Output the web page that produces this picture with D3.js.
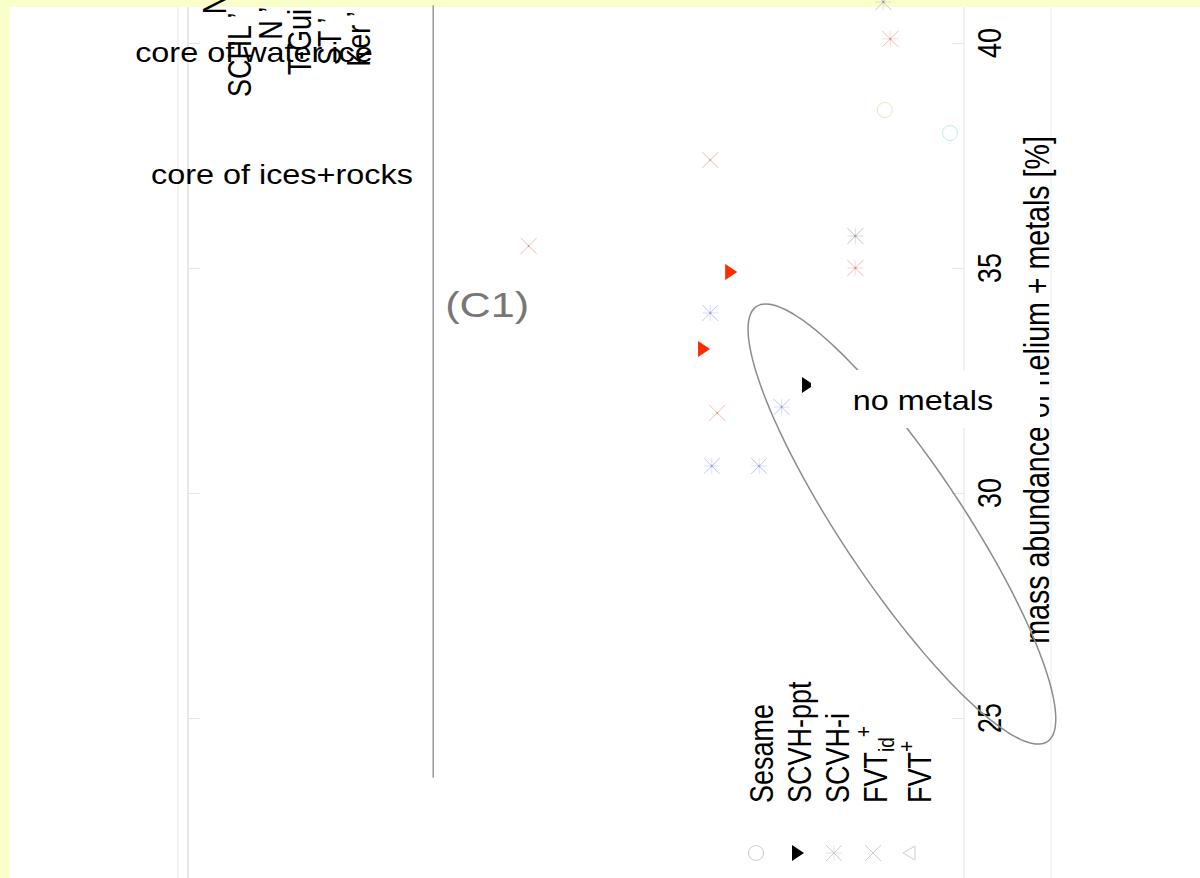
<!DOCTYPE html>
<html>
<head>
<meta charset="utf-8">
<script src="https://cdn.jsdelivr.net/npm/d3@7"></script>
<style>
  html, body { margin: 0; padding: 0; background: #FAFFCA; }
  svg { display: block; }
  text { font-family: "Liberation Sans", Arial, sans-serif; }
</style>
</head>
<body>
<svg id="chart" width="1200" height="878"></svg>
<script>
// ---- data -------------------------------------------------------------
// vertical value axis: mass abundance of helium + metals [%]
const zTicks = [25, 30, 35, 40];

// horizontal quantity: core mass (grows toward the left)
// SCVH-ppt models (filled triangles)
const ppt_core  = [3.00, 3.35, 2.01];
const ppt_z     = [34.91, 33.20, 32.40];
const ppt_group = ["g1", "g1", "g0"];

// SCVH-i models (asterisks)
const scvhi_core  = [1.40, 1.40, 0.95, 3.27, 2.35, 3.25, 2.64, 1.04];
const scvhi_z     = [35.71, 35.00, 40.09, 34.00, 31.91, 30.60, 30.60, 40.91];
const scvhi_group = ["g2", "g3", "g3", "g4", "g4", "g4", "g4", "g2"];

// FVT_id+ models (crosses)
const fvtid_core  = [3.27, 5.61, 3.18];
const fvtid_z     = [37.40, 35.49, 31.78];
const fvtid_group = ["g3", "g3", "g3"];

// Sesame models (open circles)
const sesame_core  = [1.02, 0.18];
const sesame_z     = [38.51, 38.00];
const sesame_group = ["g5", "g6"];

// legend entries
const legendNames   = ["Sesame", "SCVH-ppt", "SCVH-i", "FVT", "FVT"];
const legendSub     = ["", "", "", "id", ""];
const legendSup     = ["", "", "", "+", "+"];
const legendSymbols = ["circle", "triR", "asterisk", "cross", "triL"];

// constraint region (ellipse) in data units: centre, half-axis vectors
const ellipseCentre = [0.80, 29.31];
const ellipseMajor  = [-1.875, -4.833];
const ellipseMinor  = [0.644, -0.744];

// vertical limit line (C1)
const c1Core = 6.84;
const c1Z    = [23.67, 40.84];

// annotations
const annoText = ["core of water ice", "core of ices+rocks"];
const annoCore = [9.15, 8.79];
const annoZ    = [39.58, 36.87];

// EOS labels along the top
const eosLabels = ["N", "SCHL \u2019", "N \u2019", "T-Gui", "ST \u2019", "Ker \u2019"];
const eosCore   = [9.51, 9.19, 8.79, 8.41, 8.03, 7.65];
const eosZStart = [40.64, 38.80, 40.07, 39.29, 39.51, 39.47];

// ---- drawing ----------------------------------------------------------
const svg = d3.select("#chart");
const W = 1200, H = 878;
const plotL = 10, plotT = 7;

const x = d3.scaleLinear().domain([0, 10]).range([964, 188]);
const y = d3.scaleLinear().domain([25, 40]).range([718, 43]);

const color = d3.scaleOrdinal()
  .domain(["g0", "g1", "g2", "g3", "g4", "g5", "g6"])
  .range(["#000000", "#ff2a00", "#c4c4c4", "#f2bcba", "#c0c6f2", "#e6e6c4", "#c4ecec"]);
const centreColor = d3.scaleOrdinal()
  .domain(["g2", "g3", "g4"])
  .range(["#a0a0a0", "#e8908a", "#98a4ec"]);

const SX = 1.2; // horizontal text stretch

svg.append("rect").attr("x", plotL).attr("y", plotT)
  .attr("width", W - plotL).attr("height", H - plotT).attr("fill", "#ffffff");

const g = svg.append("g");

// frame lines
g.append("line").attr("x1", 178).attr("x2", 178).attr("y1", plotT).attr("y2", H)
  .attr("stroke", "#e4e4e4").attr("stroke-width", 1);
g.append("line").attr("x1", x.range()[1]).attr("x2", x.range()[1]).attr("y1", plotT).attr("y2", H)
  .attr("stroke", "#d2d2d2").attr("stroke-width", 1);
g.append("line").attr("x1", x.range()[0]).attr("x2", x.range()[0]).attr("y1", plotT).attr("y2", H)
  .attr("stroke", "#e2e2e2").attr("stroke-width", 1);
g.append("line").attr("x1", 1051).attr("x2", 1051).attr("y1", plotT).attr("y2", H)
  .attr("stroke", "#ececec").attr("stroke-width", 1);

// ticks on both vertical axes
const leftAxis = d3.axisRight(y).tickValues(zTicks).tickSize(12).tickFormat("");
const la = g.append("g").attr("transform", `translate(${x.range()[1]},0)`).call(leftAxis);
la.select(".domain").remove();
la.selectAll(".tick line").attr("stroke", "#e6e6e6");

const rightAxis = d3.axisLeft(y).tickValues(zTicks).tickSize(12).tickFormat("");
const ra = g.append("g").attr("transform", `translate(${x.range()[0]},0)`).call(rightAxis);
ra.select(".domain").remove();
ra.selectAll(".tick line").attr("stroke", "#e6e6e6");

// tick labels (rotated)
g.selectAll("text.ztick").data(zTicks).enter().append("text")
  .attr("class", "ztick")
  .attr("transform", d => `translate(1001,${y(d)}) scale(${SX},1) rotate(-90)`)
  .attr("text-anchor", "middle")
  .attr("font-size", 27).attr("fill", "#000")
  .text(d => d);

// axis title
g.append("text")
  .attr("transform", `translate(1049,${y(32.29)}) scale(${SX},1) rotate(-90)`)
  .attr("text-anchor", "middle").attr("font-size", 28.6).attr("fill", "#000")
  .text("mass abundance of helium + metals [%]");

// (C1) limit line
g.append("line")
  .attr("x1", x(c1Core)).attr("x2", x(c1Core))
  .attr("y1", y(c1Z[0])).attr("y2", y(c1Z[1]))
  .attr("stroke", "#9a9a9a").attr("stroke-width", 1.5);
g.append("text")
  .attr("transform", `translate(${x(c1Core) + 12},${y(33.91)}) scale(${SX},1)`)
  .attr("font-size", 36).attr("fill", "#777777")
  .text("(C1)");

// annotations
annoText.forEach((t, i) => {
  g.append("text")
    .attr("transform", `translate(${x(annoCore[i])},${y(annoZ[i])}) scale(${SX},1)`)
    .attr("text-anchor", "middle").attr("font-size", 27).attr("fill", "#000")
    .text(t);
});

// EOS labels
eosLabels.forEach((t, i) => {
  g.append("text")
    .attr("transform", `translate(${x(eosCore[i])},${y(eosZStart[i])}) scale(${SX},1) rotate(-90)`)
    .attr("font-size", 27).attr("fill", "#000")
    .text(t);
});

// ---- markers ----------------------------------------------------------
function drawSymbol(sel, type, stroke, centre) {
  if (type === "circle") {
    sel.append("circle").attr("r", 7.5).attr("fill", "none").attr("stroke", stroke).attr("stroke-width", 1);
  } else if (type === "triR") {
    sel.append("path").attr("d", "M-6,-8L6,0L-6,8Z").attr("fill", stroke);
  } else if (type === "triL") {
    sel.append("path").attr("d", "M6,-7L-6,0L6,7Z").attr("fill", "none").attr("stroke", stroke).attr("stroke-width", 1);
  } else if (type === "cross") {
    sel.append("path").attr("d", "M-8,-8L8,8M-8,8L8,-8").attr("stroke", stroke).attr("stroke-width", 1).attr("fill", "none");
    if (centre) sel.append("circle").attr("r", 1).attr("fill", centre);
  } else if (type === "asterisk") {
    sel.append("path").attr("d", "M-8,-8L8,8M-8,8L8,-8")
      .attr("stroke", stroke).attr("stroke-width", 1).attr("fill", "none");
    sel.append("path").attr("d", "M0,-8L0,8M-8,0L8,0")
      .attr("stroke", stroke).attr("stroke-opacity", 0.55).attr("stroke-width", 1).attr("fill", "none");
    if (centre) sel.append("circle").attr("r", 1.2).attr("fill", centre);
  }
}

function series(core, z, grp, type) {
  core.forEach((c, i) => {
    const s = g.append("g").attr("transform", `translate(${x(c)},${y(z[i])})`);
    drawSymbol(s, type, color(grp[i]), centreColor.domain().includes(grp[i]) ? centreColor(grp[i]) : null);
  });
}

series(sesame_core, sesame_z, sesame_group, "circle");
series(scvhi_core, scvhi_z, scvhi_group, "asterisk");
series(fvtid_core, fvtid_z, fvtid_group, "cross");
series(ppt_core, ppt_z, ppt_group, "triR");

// constraint ellipse
const ellPts = d3.range(0, 360, 3).map(a => {
  const t = a * Math.PI / 180;
  const c = ellipseCentre[0] + Math.cos(t) * ellipseMajor[0] + Math.sin(t) * ellipseMinor[0];
  const z = ellipseCentre[1] + Math.cos(t) * ellipseMajor[1] + Math.sin(t) * ellipseMinor[1];
  return [x(c), y(z)];
});
g.append("path")
  .attr("d", d3.line().curve(d3.curveCardinalClosed)(ellPts))
  .attr("fill", "none").attr("stroke", "#8c8c8c").attr("stroke-width", 1.5);

// "no metals" label with white box
const nmY = y(32.09);
g.append("rect").attr("x", 811).attr("y", nmY - 29).attr("width", 229).attr("height", 58).attr("fill", "#ffffff");
g.append("text")
  .attr("transform", `translate(${x(0.53)},${nmY + 11}) scale(${SX},1)`)
  .attr("text-anchor", "middle").attr("font-size", 27).attr("fill", "#000")
  .text("no metals");

// ---- legend -----------------------------------------------------------
const legX = [773, 811, 849, 887, 931];
const symX = [756, 798, 834, 873, 909];
legendNames.forEach((n, i) => {
  const t = g.append("text")
    .attr("transform", `translate(${legX[i]},803) scale(${SX},1) rotate(-90)`)
    .attr("font-size", 27).attr("fill", "#000");
  t.append("tspan").text(n);
  if (legendSub[i]) t.append("tspan").attr("font-size", 19).attr("dy", 6).text(legendSub[i]);
  if (legendSup[i]) t.append("tspan").attr("font-size", 19)
      .attr("dy", legendSub[i] ? -19 : -14).text(legendSup[i]);
  const s = g.append("g").attr("transform", `translate(${symX[i]},853)`);
  drawSymbol(s, legendSymbols[i], legendSymbols[i] === "triR" ? "#000" : "#cdcdcd", null);
});
</script>
</body>
</html>
